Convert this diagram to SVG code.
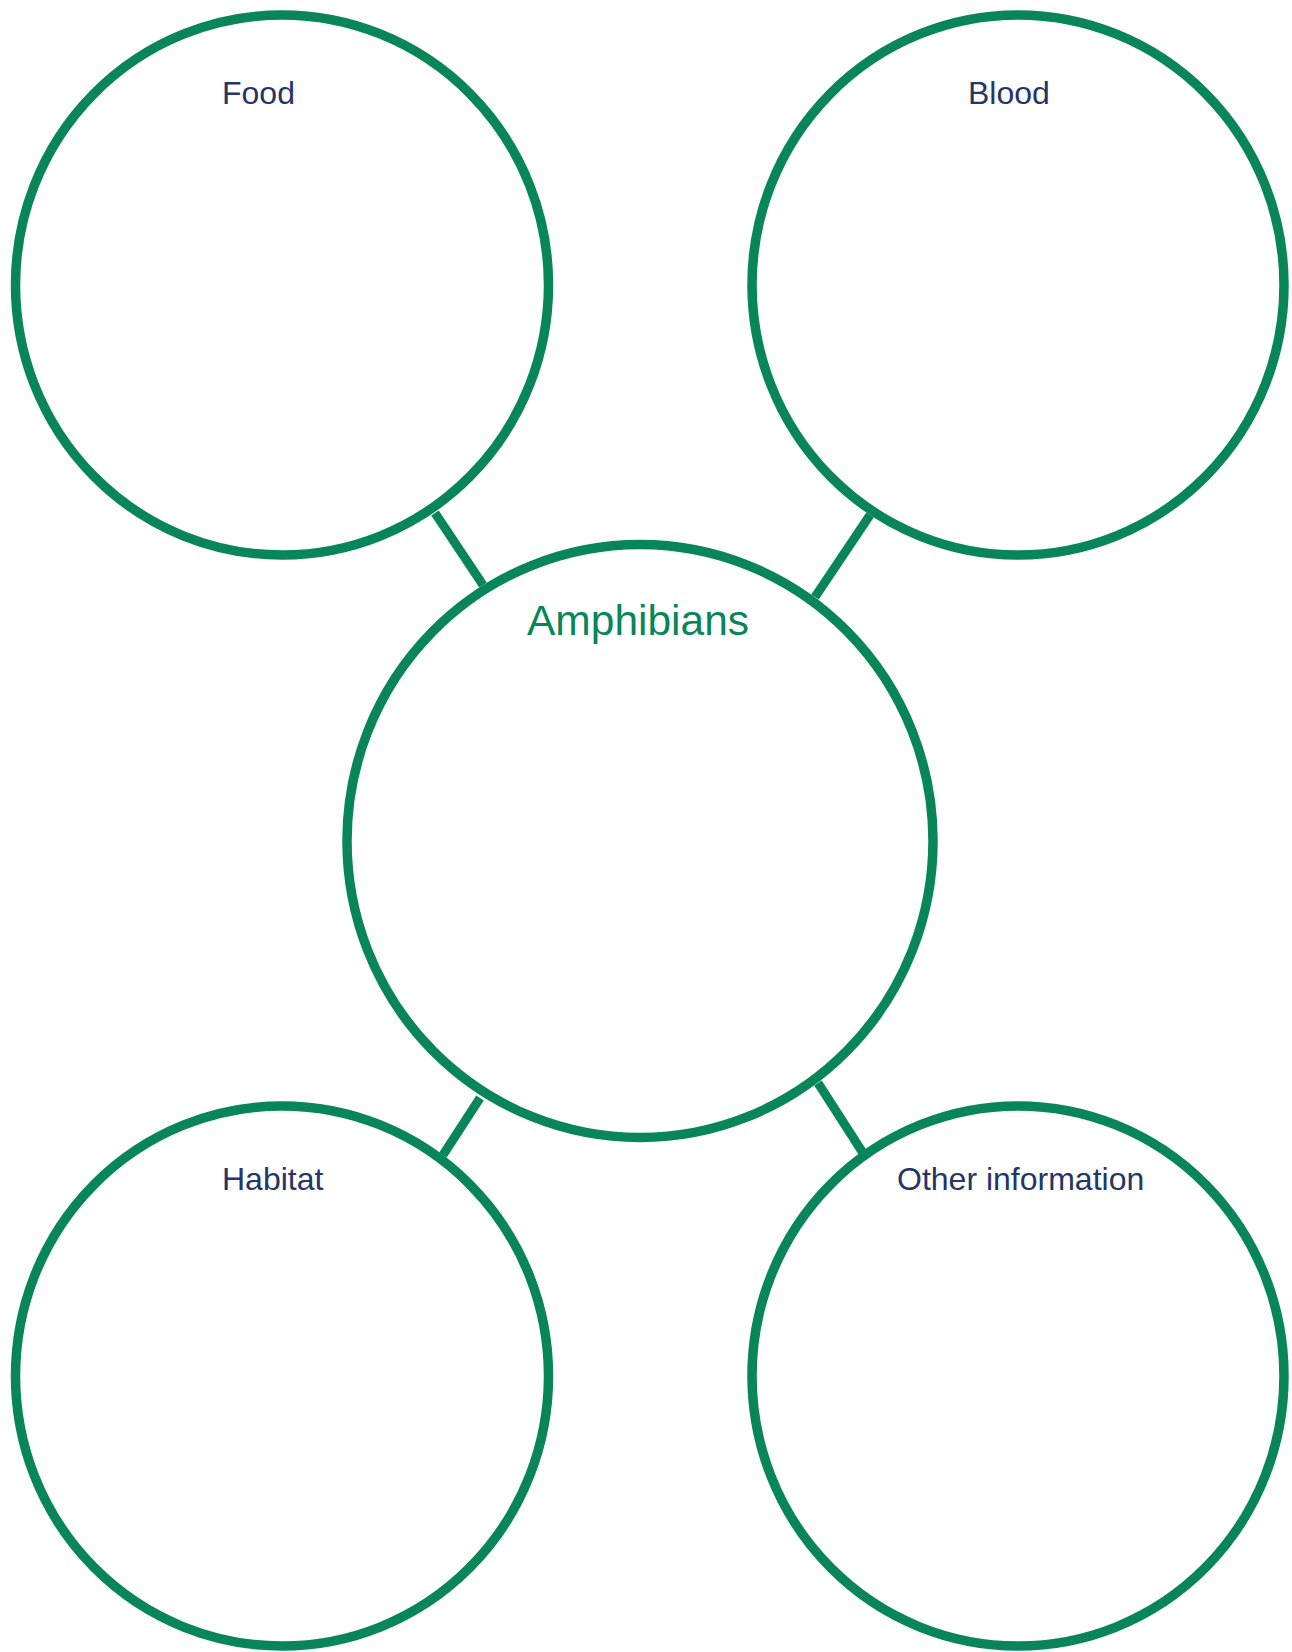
<svg xmlns="http://www.w3.org/2000/svg" width="1292" height="1652" viewBox="0 0 1292 1652">
<style>
.node{fill:#ffffff;stroke:#08865a;stroke-width:9.5}
.conn{stroke:#08865a;stroke-width:9;fill:none}
.lbl{font-family:"Liberation Sans",Arial,sans-serif;font-size:32px;fill:#253565}
.title{font-family:"Liberation Sans",Arial,sans-serif;font-size:42.5px;fill:#08865a}
</style>
<rect width="1292" height="1652" fill="#ffffff"/>
<g id="connectors">
<line class="conn" x1="435" y1="513" x2="483" y2="585"/>
<line class="conn" x1="870" y1="515" x2="815" y2="597"/>
<line class="conn" x1="480" y1="1098" x2="443" y2="1155"/>
<line class="conn" x1="818" y1="1083" x2="863" y2="1153"/>
</g>
<g id="food">
<ellipse class="node" cx="282" cy="285" rx="266.5" ry="270"/>
<text class="lbl" x="222" y="104">Food</text>
</g>
<g id="blood">
<ellipse class="node" cx="1018" cy="285" rx="266" ry="270"/>
<text class="lbl" x="968" y="104">Blood</text>
</g>
<g id="amphibians">
<ellipse class="node" cx="640" cy="841" rx="293" ry="296.5"/>
<text class="title" x="527" y="635">Amphibians</text>
</g>
<g id="habitat">
<ellipse class="node" cx="282" cy="1376" rx="266.5" ry="270"/>
<text class="lbl" x="222" y="1190">Habitat</text>
</g>
<g id="other">
<ellipse class="node" cx="1018" cy="1376" rx="266" ry="270"/>
<text class="lbl" x="897" y="1190">Other information</text>
</g>
</svg>
